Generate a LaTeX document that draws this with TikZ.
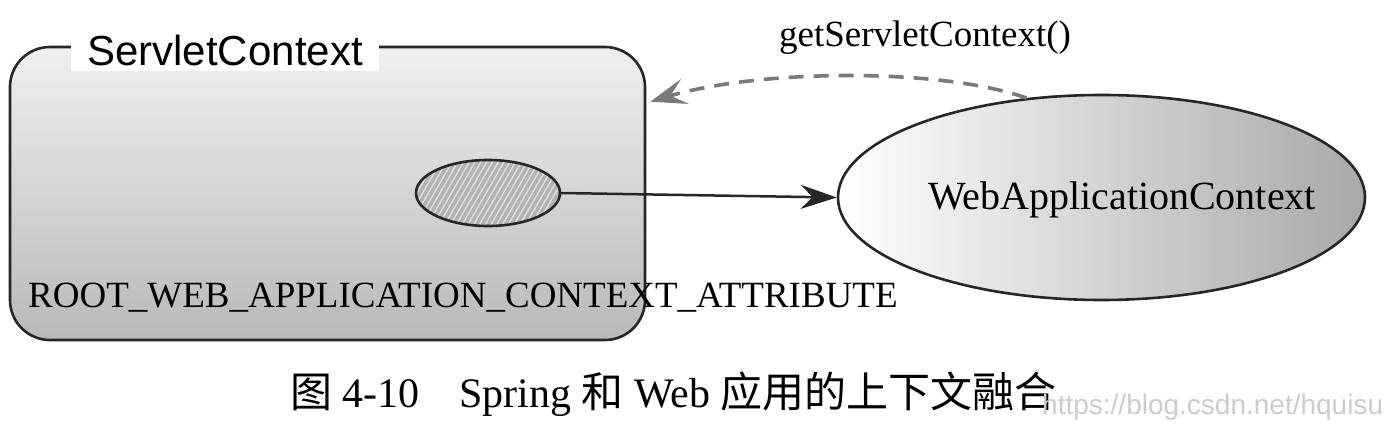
\documentclass[tikz,border=0pt]{standalone}
\usepackage{fontspec}
\setmainfont{Liberation Serif}
\newfontfamily\sansf{Liberation Sans}
\newfontfamily\cjk{Noto Sans CJK SC}
\usetikzlibrary{shapes.geometric,arrows.meta,patterns.meta}
\tikzset{
  outline/.style={draw=black!85, line width=2.6pt},
  serifbig/.style={font=\fontsize{40}{48}\selectfont},
  serifmid/.style={font=\fontsize{37}{44}\selectfont},
}
\begin{document}
\begin{tikzpicture}[x=1pt,y=1pt]
\useasboundingbox (0,0) rectangle (1391,425);
% ServletContext box
\node[outline, rounded corners=40pt, minimum width=635pt, minimum height=293pt, inner sep=0,
      top color=gray!12, bottom color=gray!55] (sc) at (327.5,231.5) {};
\node[fill=white, inner xsep=16pt, inner ysep=6pt, font=\sansf\fontsize{42}{48}\selectfont] (sct) at (225,375) {ServletContext};
% attribute ellipse
\node[ellipse, outline, minimum width=144pt, minimum height=66pt, inner sep=0,
      preaction={fill=gray!60}, pattern={Lines[angle=60,distance=5pt,line width=1.3pt]}, pattern color=gray!22] (attr) at (488,232) {};
% WebApplicationContext ellipse
\node[ellipse, outline, minimum width=527pt, minimum height=205pt, inner sep=0,
      left color=white, middle color=gray!10, right color=gray!68] (wac) at (1101.5,227.5) {};
\node[serifbig] (wact) at (1122,225) {WebApplicationContext};
% solid arrow
\draw[line width=2.5pt, black!85, -{Stealth[length=36pt,width=24pt,inset=12pt]}] (attr.east) -- (wac.west);
% dashed arrow
\coordinate (dstart) at (wac.127);
\coordinate (dend) at ([xshift=4pt,yshift=-56pt]sc.north east);
\draw[black!52, line width=3.6pt, dash pattern=on 15pt off 10pt, -{Stealth[length=36pt,width=26pt,inset=15pt]}]
  (dstart) .. controls +(-85,30) and +(111,33) .. (dend);
\node[serifmid] (gsc) at (925,387) {getServletContext()};
% attribute name
\node[anchor=base west, inner sep=0, serifmid] (root) at (28,117) {ROOT\_WEB\_APPLICATION\_CONTEXT\_ATTRIBUTE};
% caption
\node[anchor=base west, inner sep=0, font=\fontsize{42}{48}\selectfont] (cap) at (290,17)
  {{\cjk 图}\hspace{10pt}4-10\hspace{40pt}Spring {\cjk 和} Web {\cjk 应用的上下文融合}};
% watermark
\node[anchor=base west, inner sep=0, text=gray!40, font=\sansf\fontsize{28}{32}\selectfont] (wm) at (1042,10) {https://blog.csdn.net/hquisu};
\end{tikzpicture}
\end{document}
